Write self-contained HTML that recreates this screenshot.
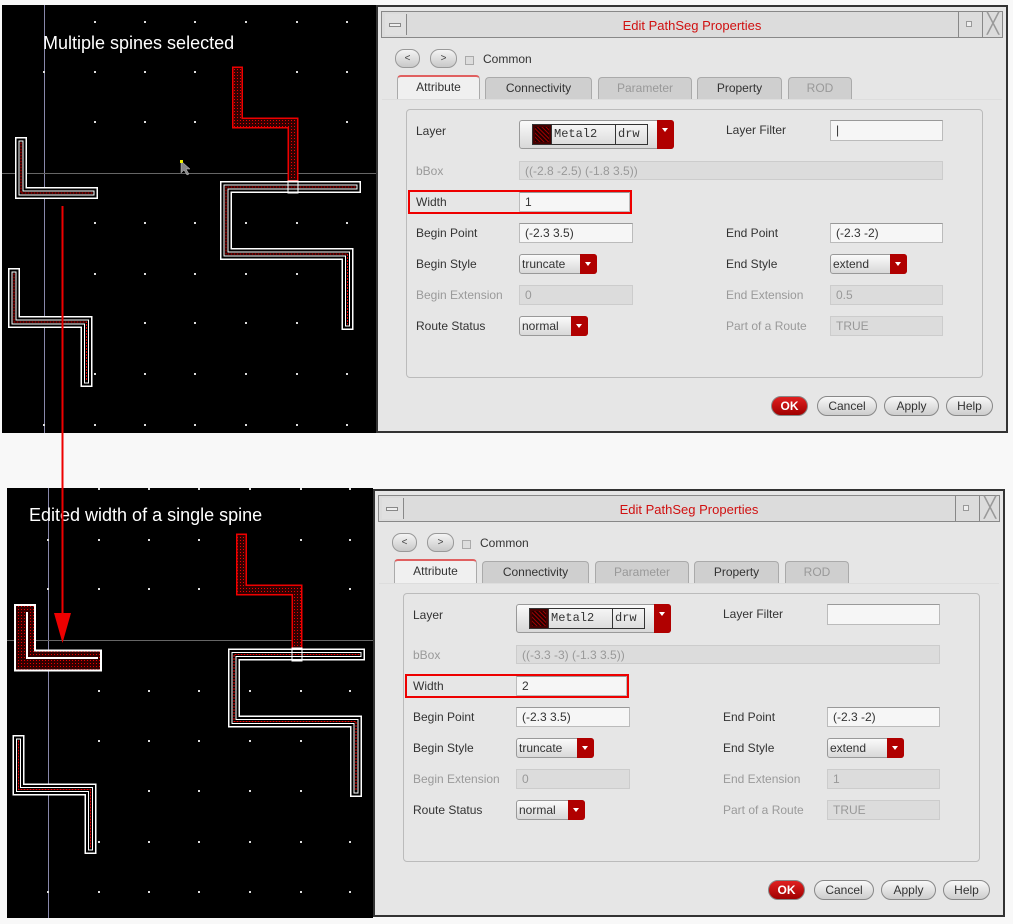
<!DOCTYPE html>
<html><head><meta charset="utf-8"><style>
body{margin:0;width:1013px;height:924px;background:#f8f8f8;position:relative;overflow:hidden;font-family:"Liberation Sans",sans-serif;}
.dlg{position:absolute;width:632px;height:428px;background:#e6e6e6;border:2px solid #333;box-sizing:border-box;}
.dlg div,.dlg span{position:absolute;box-sizing:border-box;}
.tb{left:3px;top:4px;width:622px;height:27px;background:#dcdcdc;border:1px solid #888;}
.ttl{left:0;width:100%;top:6px;text-align:center;color:#d01010;font-size:13px;}
.sq{border:1px solid #888;background:#e0e0e0;}
.nb{height:19px;border:1px solid #999;border-radius:9px;background:linear-gradient(#f4f4f4,#c8c8c8);font-size:10px;text-align:center;line-height:17px;color:#444;}
.lb{font-size:12px;color:#333;line-height:14px;white-space:nowrap;}
.dis{color:#9a9a9a;}
.tab{top:70px;height:22px;border:1px solid #aaa;border-bottom:none;border-radius:4px 4px 0 0;background:#cfcfcf;font-size:12px;text-align:center;line-height:21px;color:#333;}
.fld{height:20px;background:#f6f6f6;border:1px solid #bbb;border-top-color:#999;font-size:12px;color:#333;padding-left:5px;line-height:18px;}
.fd{background:#dcdcdc;color:#999;border-color:#ccc;}
.cmb{height:20px;border:1px solid #999;border-radius:3px;background:linear-gradient(#fafafa,#d8d8d8);font-size:12px;color:#333;line-height:18px;padding-left:2px;}
.dd{top:-1px;right:-1px;width:17px;height:20px;background:#b00000;border-radius:0 3px 3px 0;}
.dd::after{content:"";position:absolute;left:5px;top:8px;border:3.5px solid transparent;border-top:4px solid #fff;}
.btn{top:389px;height:20px;border:1px solid #888;border-radius:10px;background:linear-gradient(#f8f8f8,#cdcdcd);font-size:12px;text-align:center;line-height:18px;color:#333;}
</style></head><body>

<svg width="1013" height="924" style="position:absolute;left:0;top:0">
<defs>
<pattern id="dr" width="3" height="3" patternUnits="userSpaceOnUse"><rect width="3" height="3" fill="#300"/><rect width="1" height="1" fill="#e00"/></pattern>
</defs>
<!-- top canvas -->
<rect x="2" y="5" width="374" height="428" fill="#000"/>
<g fill="#ccc">
<g id="dotsT">
</g>
</g>
<line x1="44.5" y1="5" x2="44.5" y2="433" stroke="#8888aa"/>
<line x1="2" y1="173.5" x2="376" y2="173.5" stroke="#666"/>
<g fill="#ddd">
<rect x="94" y="21" width="2" height="2"/><rect x="144" y="21" width="2" height="2"/><rect x="194" y="21" width="2" height="2"/><rect x="245" y="21" width="2" height="2"/><rect x="296" y="21" width="2" height="2"/><rect x="346" y="21" width="2" height="2"/>
<rect x="43" y="71" width="2" height="2"/><rect x="94" y="71" width="2" height="2"/><rect x="144" y="71" width="2" height="2"/><rect x="194" y="71" width="2" height="2"/><rect x="296" y="71" width="2" height="2"/><rect x="346" y="71" width="2" height="2"/>
<rect x="94" y="121" width="2" height="2"/><rect x="144" y="121" width="2" height="2"/><rect x="194" y="121" width="2" height="2"/><rect x="346" y="121" width="2" height="2"/>
<rect x="94" y="222" width="2" height="2"/><rect x="144" y="222" width="2" height="2"/><rect x="194" y="222" width="2" height="2"/><rect x="245" y="222" width="2" height="2"/><rect x="296" y="222" width="2" height="2"/><rect x="346" y="222" width="2" height="2"/>
<rect x="94" y="273" width="2" height="2"/><rect x="144" y="273" width="2" height="2"/><rect x="194" y="273" width="2" height="2"/><rect x="245" y="273" width="2" height="2"/><rect x="296" y="273" width="2" height="2"/>
<rect x="144" y="322" width="2" height="2"/><rect x="194" y="322" width="2" height="2"/><rect x="245" y="322" width="2" height="2"/><rect x="296" y="322" width="2" height="2"/>
<rect x="94" y="373" width="2" height="2"/><rect x="144" y="373" width="2" height="2"/><rect x="194" y="373" width="2" height="2"/><rect x="245" y="373" width="2" height="2"/><rect x="296" y="373" width="2" height="2"/><rect x="346" y="373" width="2" height="2"/>
<rect x="43" y="424" width="2" height="2"/><rect x="94" y="424" width="2" height="2"/><rect x="144" y="424" width="2" height="2"/><rect x="194" y="424" width="2" height="2"/><rect x="245" y="424" width="2" height="2"/><rect x="296" y="424" width="2" height="2"/><rect x="346" y="424" width="2" height="2"/>
</g>
<!-- red path top -->
<g fill="none" stroke-linecap="square" stroke-linejoin="miter">
<polyline points="237.5,72 237.5,123 293,123 293,176" stroke="#e00" stroke-width="11"/>
<polyline points="237.5,72 237.5,123 293,123 293,176" stroke="url(#dr)" stroke-width="8"/>
</g>
<g fill="none" stroke-linecap="square" stroke-linejoin="miter">
<g id="wp1">
<polyline points="21,143 21,193 92,193" stroke="#fff" stroke-width="12"/>
<polyline points="21,143 21,193 92,193" stroke="#000" stroke-width="9"/>
<polyline points="21,143 21,193 92,193" stroke="#fff" stroke-width="5"/>
<polyline points="21,143 21,193 92,193" stroke="#000" stroke-width="3"/>
<polyline points="21,143 21,193 92,193" stroke="#e00" stroke-width="1" stroke-dasharray="1 2"/>
</g>
<polyline points="355,187 226,187 226,254 347.5,254 347.5,324" stroke="#fff" stroke-width="12"/>
<polyline points="355,187 226,187 226,254 347.5,254 347.5,324" stroke="#000" stroke-width="9"/>
<polyline points="355,187 226,187 226,254 347.5,254 347.5,324" stroke="#fff" stroke-width="5"/>
<polyline points="355,187 226,187 226,254 347.5,254 347.5,324" stroke="#000" stroke-width="3"/>
<polyline points="355,187 226,187 226,254 347.5,254 347.5,324" stroke="#e00" stroke-width="1" stroke-dasharray="1 2"/>
<polyline points="14,274 14,322 86.5,322 86.5,381" stroke="#fff" stroke-width="12"/>
<polyline points="14,274 14,322 86.5,322 86.5,381" stroke="#000" stroke-width="9"/>
<polyline points="14,274 14,322 86.5,322 86.5,381" stroke="#fff" stroke-width="5"/>
<polyline points="14,274 14,322 86.5,322 86.5,381" stroke="#000" stroke-width="3"/>
<polyline points="14,274 14,322 86.5,322 86.5,381" stroke="#e00" stroke-width="1" stroke-dasharray="1 2"/>
</g>
<rect x="288" y="181" width="10" height="12" fill="none" stroke="#fff" stroke-width="1"/>
<path d="M181,161 l0,12 l3,-3 l3,5 l2,-1 l-3,-5 l4,0 z" fill="#888" stroke="#ccc" stroke-width="0.5"/>
<rect x="180" y="160" width="3" height="3" fill="#ee0"/>
<text x="43" y="49" fill="#fff" font-family="Liberation Sans" font-size="18">Multiple spines selected</text>

<!-- bottom canvas -->
<rect x="7" y="488" width="366" height="430" fill="#000"/>
<line x1="48.5" y1="488" x2="48.5" y2="918" stroke="#8888aa"/>
<line x1="7" y1="640.5" x2="373" y2="640.5" stroke="#666"/>
<g fill="#ddd">
<rect x="98" y="488" width="2" height="2"/><rect x="148" y="488" width="2" height="2"/><rect x="198" y="488" width="2" height="2"/><rect x="249" y="488" width="2" height="2"/><rect x="300" y="488" width="2" height="2"/><rect x="349" y="488" width="2" height="2"/>
<rect x="47" y="539" width="2" height="2"/><rect x="98" y="539" width="2" height="2"/><rect x="148" y="539" width="2" height="2"/><rect x="198" y="539" width="2" height="2"/><rect x="300" y="539" width="2" height="2"/><rect x="349" y="539" width="2" height="2"/>
<rect x="47" y="588" width="2" height="2"/><rect x="98" y="588" width="2" height="2"/><rect x="148" y="588" width="2" height="2"/><rect x="198" y="588" width="2" height="2"/><rect x="349" y="588" width="2" height="2"/>
<rect x="98" y="690" width="2" height="2"/><rect x="148" y="690" width="2" height="2"/><rect x="198" y="690" width="2" height="2"/><rect x="249" y="690" width="2" height="2"/><rect x="300" y="690" width="2" height="2"/><rect x="349" y="690" width="2" height="2"/>
<rect x="98" y="740" width="2" height="2"/><rect x="148" y="740" width="2" height="2"/><rect x="198" y="740" width="2" height="2"/><rect x="249" y="740" width="2" height="2"/><rect x="300" y="740" width="2" height="2"/>
<rect x="148" y="790" width="2" height="2"/><rect x="198" y="790" width="2" height="2"/><rect x="249" y="790" width="2" height="2"/><rect x="300" y="790" width="2" height="2"/>
<rect x="98" y="841" width="2" height="2"/><rect x="148" y="841" width="2" height="2"/><rect x="198" y="841" width="2" height="2"/><rect x="249" y="841" width="2" height="2"/><rect x="300" y="841" width="2" height="2"/><rect x="349" y="841" width="2" height="2"/>
<rect x="47" y="891" width="2" height="2"/><rect x="98" y="891" width="2" height="2"/><rect x="148" y="891" width="2" height="2"/><rect x="198" y="891" width="2" height="2"/><rect x="249" y="891" width="2" height="2"/><rect x="300" y="891" width="2" height="2"/><rect x="349" y="891" width="2" height="2"/>
</g>
<g fill="none" stroke-linecap="square" stroke-linejoin="miter">
<polyline points="241.5,539 241.5,590 297,590 297,644" stroke="#e00" stroke-width="11"/>
<polyline points="241.5,539 241.5,590 297,590 297,644" stroke="url(#dr)" stroke-width="8"/>
<polyline points="25,615 25,660.5 91,660.5" stroke="#fff" stroke-width="22"/>
<polyline points="25,615 25,660.5 91,660.5" stroke="url(#dr)" stroke-width="18"/>
<polyline points="27,612 27,658 98,658" stroke="#fff" stroke-width="2" stroke-linecap="butt"/>
<polyline points="355,654.5 230,654.5 230,721.5 352,721.5 352,791" stroke="#fff" stroke-width="12" transform="translate(4,0)"/>
<polyline points="355,654.5 230,654.5 230,721.5 352,721.5 352,791" stroke="#000" stroke-width="9" transform="translate(4,0)"/>
<polyline points="355,654.5 230,654.5 230,721.5 352,721.5 352,791" stroke="#fff" stroke-width="5" transform="translate(4,0)"/>
<polyline points="355,654.5 230,654.5 230,721.5 352,721.5 352,791" stroke="#000" stroke-width="3" transform="translate(4,0)"/>
<polyline points="355,654.5 230,654.5 230,721.5 352,721.5 352,791" stroke="#e00" stroke-width="1" stroke-dasharray="1 2" transform="translate(4,0)"/>
<polyline points="18.5,741 18.5,789.5 90.5,789.5 90.5,848" stroke="#fff" stroke-width="12"/>
<polyline points="18.5,741 18.5,789.5 90.5,789.5 90.5,848" stroke="#000" stroke-width="9"/>
<polyline points="18.5,741 18.5,789.5 90.5,789.5 90.5,848" stroke="#fff" stroke-width="5"/>
<polyline points="18.5,741 18.5,789.5 90.5,789.5 90.5,848" stroke="#000" stroke-width="3"/>
<polyline points="18.5,741 18.5,789.5 90.5,789.5 90.5,848" stroke="#e00" stroke-width="1" stroke-dasharray="1 2"/>
</g>
<rect x="292" y="648" width="10" height="13" fill="none" stroke="#fff" stroke-width="1"/>
<text x="29" y="521" fill="#fff" font-family="Liberation Sans" font-size="18">Edited width of a single spine</text>
<!-- arrow -->
<line x1="62.5" y1="206" x2="62.5" y2="620" stroke="#e00" stroke-width="2"/>
<polygon points="54,613 71,613 62.5,643" fill="#e00"/>
</svg>

<!-- top dialog -->
<div class="dlg" style="left:376px;top:5px;">
 <div class="tb"><div class="sq" style="left:3px;top:2px;width:22px;height:21px;border:none;border-right:1px solid #888"><div style="left:4px;top:9px;width:12px;height:4px;border:1px solid #888;background:#eee"></div></div>
  <div class="ttl">Edit PathSeg Properties</div>
  <div style="left:576px;top:0;width:23px;height:25px;border-left:1px solid #888"><div style="left:7px;top:9px;width:6px;height:6px;border:1px solid #999;background:#eee"></div></div>
  <div style="left:600px;top:0;width:21px;height:25px;border-left:1px solid #888;font-size:20px;color:#999;line-height:24px;text-align:center">╳</div>
 </div>
 <div class="nb" style="left:17px;top:42px;width:25px">&lt;</div>
 <div class="nb" style="left:52px;top:42px;width:27px">&gt;</div>
 <div style="left:87px;top:49px;width:9px;height:9px;border:1px solid #aaa;background:#ddd"></div>
 <div class="lb" style="left:105px;top:45px">Common</div>
 <div class="tab" style="left:19px;width:83px;background:#f0f0f0;border-top:2px solid #e06060;height:24px;top:68px">Attribute</div>
 <div class="tab" style="left:107px;width:107px">Connectivity</div>
 <div class="tab" style="left:220px;width:94px;color:#999">Parameter</div>
 <div class="tab" style="left:319px;width:85px">Property</div>
 <div class="tab" style="left:410px;width:64px;color:#999">ROD</div>
 <div style="left:4px;top:92px;width:620px;height:1px;background:#ddd"></div>
 <div style="left:28px;top:102px;width:577px;height:269px;border:1px solid #bbb;border-radius:4px"></div>
 <div class="lb" style="left:38px;top:117px">Layer</div>
 <div class="cmb" style="left:141px;top:113px;width:155px;height:29px;padding:0">
  <div style="left:12px;top:3px;width:20px;height:21px;border:1px solid #333;background:url(#);background:#400"><div style="left:2px;top:2px;width:14px;height:15px;background:repeating-linear-gradient(45deg,#900 0 1px,#200 1px 3px)"></div></div>
  <div style="left:31px;top:3px;width:65px;height:21px;border:1px solid #333;font-family:'Liberation Mono',monospace;font-size:12px;line-height:19px;padding-left:2px">Metal2</div>
  <div style="left:95px;top:3px;width:33px;height:21px;border:1px solid #333;font-family:'Liberation Mono',monospace;font-size:12px;line-height:19px;padding-left:2px">drw</div>
  <div class="dd" style="height:29px;top:-1px"></div>
 </div>
 <div class="lb" style="left:348px;top:116px">Layer Filter</div>
 <div class="fld" style="left:452px;top:113px;width:113px;height:21px">|</div>
 <div class="lb dis" style="left:38px;top:157px">bBox</div>
 <div class="fld fd" style="left:141px;top:154px;width:424px;height:19px">((-2.8 -2.5) (-1.8 3.5))</div>
 <div style="left:30px;top:183px;width:224px;height:24px;border:2px solid #e00"></div>
 <div class="lb" style="left:38px;top:188px">Width</div>
 <div class="fld" style="left:141px;top:185px;width:111px">1</div>
 <div class="lb" style="left:38px;top:219px">Begin Point</div>
 <div class="fld" style="left:141px;top:216px;width:114px">(-2.3 3.5)</div>
 <div class="lb" style="left:348px;top:219px">End Point</div>
 <div class="fld" style="left:452px;top:216px;width:113px">(-2.3 -2)</div>
 <div class="lb" style="left:38px;top:250px">Begin Style</div>
 <div class="cmb" style="left:141px;top:247px;width:78px">truncate<div class="dd"></div></div>
 <div class="lb" style="left:348px;top:250px">End Style</div>
 <div class="cmb" style="left:452px;top:247px;width:77px">extend<div class="dd"></div></div>
 <div class="lb dis" style="left:38px;top:281px">Begin Extension</div>
 <div class="fld fd" style="left:141px;top:278px;width:114px">0</div>
 <div class="lb dis" style="left:348px;top:281px">End Extension</div>
 <div class="fld fd" style="left:452px;top:278px;width:113px">0.5</div>
 <div class="lb" style="left:38px;top:312px">Route Status</div>
 <div class="cmb" style="left:141px;top:309px;width:69px">normal<div class="dd"></div></div>
 <div class="lb dis" style="left:348px;top:312px">Part of a Route</div>
 <div class="fld fd" style="left:452px;top:309px;width:113px">TRUE</div>
 <div class="btn" style="left:393px;width:37px;background:linear-gradient(#e02020,#a00000);color:#fff;font-weight:bold">OK</div>
 <div class="btn" style="left:439px;width:60px">Cancel</div>
 <div class="btn" style="left:506px;width:55px">Apply</div>
 <div class="btn" style="left:568px;width:47px">Help</div>
</div>

<!-- bottom dialog -->
<div class="dlg" style="left:373px;top:489px;">
 <div class="tb"><div class="sq" style="left:3px;top:2px;width:22px;height:21px;border:none;border-right:1px solid #888"><div style="left:4px;top:9px;width:12px;height:4px;border:1px solid #888;background:#eee"></div></div>
  <div class="ttl">Edit PathSeg Properties</div>
  <div style="left:576px;top:0;width:23px;height:25px;border-left:1px solid #888"><div style="left:7px;top:9px;width:6px;height:6px;border:1px solid #999;background:#eee"></div></div>
  <div style="left:600px;top:0;width:21px;height:25px;border-left:1px solid #888;font-size:20px;color:#999;line-height:24px;text-align:center">╳</div>
 </div>
 <div class="nb" style="left:17px;top:42px;width:25px">&lt;</div>
 <div class="nb" style="left:52px;top:42px;width:27px">&gt;</div>
 <div style="left:87px;top:49px;width:9px;height:9px;border:1px solid #aaa;background:#ddd"></div>
 <div class="lb" style="left:105px;top:45px">Common</div>
 <div class="tab" style="left:19px;width:83px;background:#f0f0f0;border-top:2px solid #e06060;height:24px;top:68px">Attribute</div>
 <div class="tab" style="left:107px;width:107px">Connectivity</div>
 <div class="tab" style="left:220px;width:94px;color:#999">Parameter</div>
 <div class="tab" style="left:319px;width:85px">Property</div>
 <div class="tab" style="left:410px;width:64px;color:#999">ROD</div>
 <div style="left:4px;top:92px;width:620px;height:1px;background:#ddd"></div>
 <div style="left:28px;top:102px;width:577px;height:269px;border:1px solid #bbb;border-radius:4px"></div>
 <div class="lb" style="left:38px;top:117px">Layer</div>
 <div class="cmb" style="left:141px;top:113px;width:155px;height:29px;padding:0">
  <div style="left:12px;top:3px;width:20px;height:21px;border:1px solid #333;background:#400"><div style="left:2px;top:2px;width:14px;height:15px;background:repeating-linear-gradient(45deg,#900 0 1px,#200 1px 3px)"></div></div>
  <div style="left:31px;top:3px;width:65px;height:21px;border:1px solid #333;font-family:'Liberation Mono',monospace;font-size:12px;line-height:19px;padding-left:2px">Metal2</div>
  <div style="left:95px;top:3px;width:33px;height:21px;border:1px solid #333;font-family:'Liberation Mono',monospace;font-size:12px;line-height:19px;padding-left:2px">drw</div>
  <div class="dd" style="height:29px;top:-1px"></div>
 </div>
 <div class="lb" style="left:348px;top:116px">Layer Filter</div>
 <div class="fld" style="left:452px;top:113px;width:113px;height:21px"></div>
 <div class="lb dis" style="left:38px;top:157px">bBox</div>
 <div class="fld fd" style="left:141px;top:154px;width:424px;height:19px">((-3.3 -3) (-1.3 3.5))</div>
 <div style="left:30px;top:183px;width:224px;height:24px;border:2px solid #e00"></div>
 <div class="lb" style="left:38px;top:188px">Width</div>
 <div class="fld" style="left:141px;top:185px;width:111px">2</div>
 <div class="lb" style="left:38px;top:219px">Begin Point</div>
 <div class="fld" style="left:141px;top:216px;width:114px">(-2.3 3.5)</div>
 <div class="lb" style="left:348px;top:219px">End Point</div>
 <div class="fld" style="left:452px;top:216px;width:113px">(-2.3 -2)</div>
 <div class="lb" style="left:38px;top:250px">Begin Style</div>
 <div class="cmb" style="left:141px;top:247px;width:78px">truncate<div class="dd"></div></div>
 <div class="lb" style="left:348px;top:250px">End Style</div>
 <div class="cmb" style="left:452px;top:247px;width:77px">extend<div class="dd"></div></div>
 <div class="lb dis" style="left:38px;top:281px">Begin Extension</div>
 <div class="fld fd" style="left:141px;top:278px;width:114px">0</div>
 <div class="lb dis" style="left:348px;top:281px">End Extension</div>
 <div class="fld fd" style="left:452px;top:278px;width:113px">1</div>
 <div class="lb" style="left:38px;top:312px">Route Status</div>
 <div class="cmb" style="left:141px;top:309px;width:69px">normal<div class="dd"></div></div>
 <div class="lb dis" style="left:348px;top:312px">Part of a Route</div>
 <div class="fld fd" style="left:452px;top:309px;width:113px">TRUE</div>
 <div class="btn" style="left:393px;width:37px;background:linear-gradient(#e02020,#a00000);color:#fff;font-weight:bold">OK</div>
 <div class="btn" style="left:439px;width:60px">Cancel</div>
 <div class="btn" style="left:506px;width:55px">Apply</div>
 <div class="btn" style="left:568px;width:47px">Help</div>
</div>
</body></html>
